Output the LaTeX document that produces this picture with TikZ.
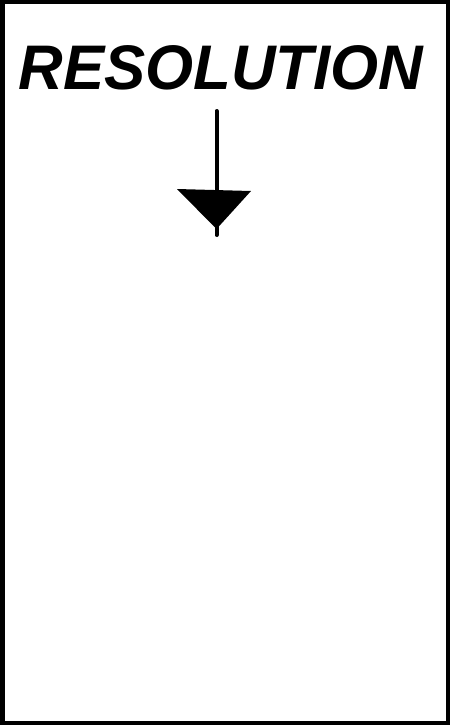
\documentclass[tikz,border=0pt]{standalone}
\usepackage{fontspec}
\newfontfamily\titlefont{Liberation Sans}
\usetikzlibrary{positioning}

\begin{document}
\begin{tikzpicture}[
    x=1pt, y=-1pt,
    frame/.style={draw=black, line width=4.5pt},
    titletext/.style={font=\titlefont\bfseries\itshape\fontsize{63}{63}\selectfont, inner sep=0pt, anchor=base, xscale=0.98},
    shaft/.style={draw=black, line width=4pt, line cap=round},
    head/.style={fill=black}
]
    \useasboundingbox (0,0) rectangle (450,725);
    % outer frame
    \draw[frame] (2.25,2) rectangle (447.75,723);

    % title
    \node[titletext] (title) at (221,89) {RESOLUTION};

    % downward arrow
    \coordinate (arrowstart) at (216.5,111);
    \coordinate (arrowend) at (216.5,235);
    \draw[shaft] (arrowstart) -- (arrowend);
    \coordinate (headleft) at (177,189);
    \coordinate (headright) at (251,191);
    \coordinate (headtip) at (216.5,229);
    \fill[head] (headleft) -- (headright) -- (headtip) -- cycle;
\end{tikzpicture}
\end{document}
